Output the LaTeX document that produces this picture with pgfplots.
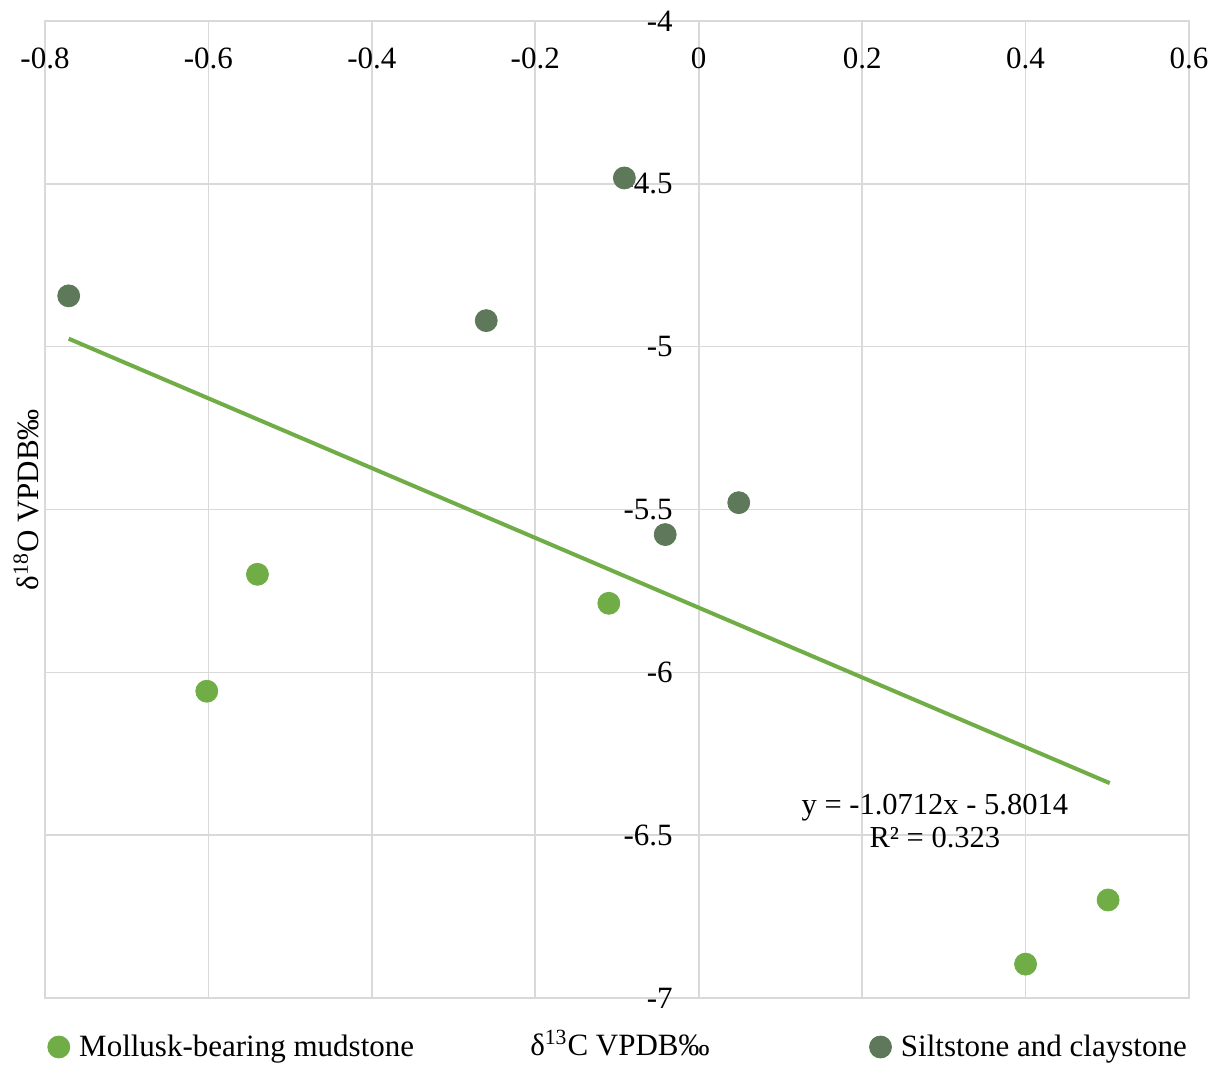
\documentclass[border=0pt]{standalone}
\usepackage{fontspec}
\setmainfont{Liberation Serif}
\usepackage{pgfplots}
\pgfplotsset{compat=1.18}
\definecolor{gridgray}{HTML}{D9D9D9}
\definecolor{mollusk}{HTML}{70AD47}
\definecolor{silt}{HTML}{5E785A}
\newcommand{\chartfont}{\fontsize{15.5}{18}\selectfont}

\begin{document}
\begin{tikzpicture}
\begin{axis}[
    scale only axis,
    width=572pt, height=488.5pt,
    xmin=-0.8, xmax=0.6, ymin=-7, ymax=-4,
    xtick={-0.8,-0.6,-0.4,-0.2,0,0.2,0.4,0.6},
    ytick={-7,-6.5,-6,-5.5,-5,-4.5,-4},
    grid=major,
    grid style={gridgray, line width=0.8pt},
    axis line style={gridgray, line width=0.8pt},
    major tick length=0pt,
    xticklabel pos=upper,
    /pgf/number format/assume math mode=true,
    tick label style={font=\chartfont, inner sep=0pt},
    xticklabel style={anchor=center, yshift=-18.5pt},
    yticklabel style={anchor=east, xshift=314pt},
    xlabel={δ\textsuperscript{13}C VPDB‰},
    ylabel={δ\textsuperscript{18}O VPDB‰},
    xlabel style={at={(rel axis cs:0.5026,-0.046)}, anchor=center, font=\chartfont},
    ylabel style={at={(rel axis cs:-0.0165,0.51)}, anchor=center, font=\chartfont},
    legend columns=2,
    legend cell align=left,
    legend style={at={(rel axis cs:0,0)}, anchor=west, xshift=1pt, yshift=-24.5pt,
        draw=none, fill=none, inner sep=0pt, font=\chartfont,
        /tikz/every even column/.append style={column sep=225.5pt}},
    legend image code/.code={\path (0pt,0pt) (13.5pt,0pt); \draw[#1] plot coordinates {(5.5pt,0pt)};},
]
\coordinate (sw) at (rel axis cs:0,0);
% trend line over all samples
\addplot[mollusk, line width=2pt, forget plot] coordinates {(-0.771,-4.9755) (0.503,-6.3402)};
\addplot[only marks, mark=*, mark size=5.5pt, mollusk, mark options={draw=mollusk, fill=mollusk}]
    coordinates {(-0.540,-5.699) (-0.602,-6.058) (-0.110,-5.788) (0.400,-6.896) (0.501,-6.699)};
\addlegendentry{Mollusk-bearing mudstone}
\addplot[only marks, mark=*, mark size=5.5pt, silt, mark options={draw=silt, fill=silt}]
    coordinates {(-0.771,-4.844) (-0.091,-4.482) (-0.260,-4.920) (0.049,-5.479) (-0.041,-5.577)};
\addlegendentry{Siltstone and claystone}
\node[align=center, inner sep=0pt, font=\fontsize{15.25}{16.5}\selectfont]
    at (axis cs:0.289,-6.456) {y = -1.0712x - 5.8014\\R² = 0.323};
\end{axis}
\pgfresetboundingbox
\path (sw) ++(-22.5pt,-34pt) rectangle ++(610.5pt,533pt);
\end{tikzpicture}
\end{document}
